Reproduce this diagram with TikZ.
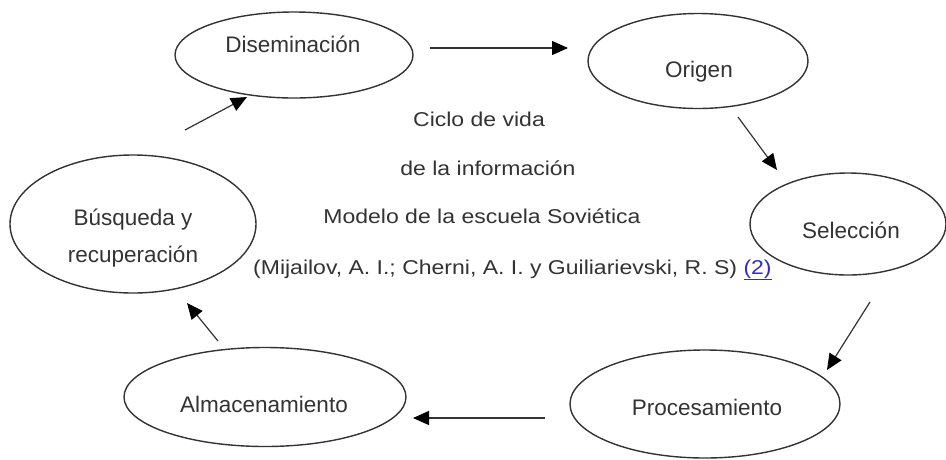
\documentclass[tikz,border=0pt]{standalone}
\usepackage{fontspec}
\setmainfont{Liberation Sans}
\newfontfamily\widefont{Liberation Sans}[FakeStretch=1.15]
\usetikzlibrary{shapes.geometric,arrows.meta}
\definecolor{ink}{HTML}{333333}
\definecolor{linkblue}{HTML}{3030C0}
\tikzset{
  stage/.style={ellipse, draw=ink, line width=1.4pt, inner sep=0pt},
  lbl/.style={anchor=base, text=ink, inner sep=0pt, font=\fontsize{22.5}{27}\selectfont},
  ctext/.style={anchor=base, text=ink, inner sep=0pt, font=\widefont\fontsize{20}{24}\selectfont},
  flow/.style={draw=ink, line width=1.2pt, -{Triangle[length=16pt,width=14pt,color=black]}}
}
\begin{document}
\begin{tikzpicture}[x=1pt,y=-1pt]
\useasboundingbox (0,0) rectangle (946,459);
\fill[white] (0,0) rectangle (946,459);
% ellipses
\node[stage, minimum width=238pt, minimum height=86pt]  (dis) at (294,55)  {};
\node[stage, minimum width=220pt, minimum height=95pt]  (ori) at (698,61)  {};
\node[stage, minimum width=196pt, minimum height=102pt] (sel) at (848,224) {};
\node[stage, minimum width=270pt, minimum height=108pt] (pro) at (705,404) {};
\node[stage, minimum width=282pt, minimum height=99pt]  (alm) at (265,397) {};
\node[stage, minimum width=246pt, minimum height=138pt] (bus) at (133,224) {};
% labels
\node[lbl] (tdis) at (293,52)  {Diseminación};
\node[lbl] (tori) at (699,77)  {Origen};
\node[lbl] (tsel) at (851,238) {Selección};
\node[lbl] (tpro) at (707,415) {Procesamiento};
\node[lbl] (talm) at (264,412) {Almacenamiento};
\node[lbl] (tbus1) at (133,225) {Búsqueda y};
\node[lbl] (tbus2) at (133,262) {recuperación};
% central text
\node[ctext] (c1) at (479,126) {Ciclo de vida};
\node[ctext] (c2) at (488,175) {de la información};
\node[ctext] (c3) at (482,223) {Modelo de la escuela Soviética};
\node[ctext, anchor=base west] (c4) at (253,274) {(Mijailov, A. I.; Cherni, A. I. y Guiliarievski, R. S) {\color{linkblue}\underline{(2)}}};
% arrow end points
\coordinate (a1s) at (430,48);  \coordinate (a1e) at (568,48);
\coordinate (a2s) at (738,117); \coordinate (a2e) at (777,170);
\coordinate (a3s) at (870,302); \coordinate (a3e) at (827,370);
\coordinate (a4s) at (545,418); \coordinate (a4e) at (413,418);
\coordinate (a5s) at (218,341); \coordinate (a5e) at (187,303);
\coordinate (a6s) at (185,130); \coordinate (a6e) at (247,97);
\draw[flow] (a1s) -- (a1e);
\draw[flow] (a2s) -- (a2e);
\draw[flow] (a3s) -- (a3e);
\draw[flow] (a4s) -- (a4e);
\draw[flow] (a5s) -- (a5e);
\draw[flow] (a6s) -- (a6e);
\end{tikzpicture}
\end{document}
